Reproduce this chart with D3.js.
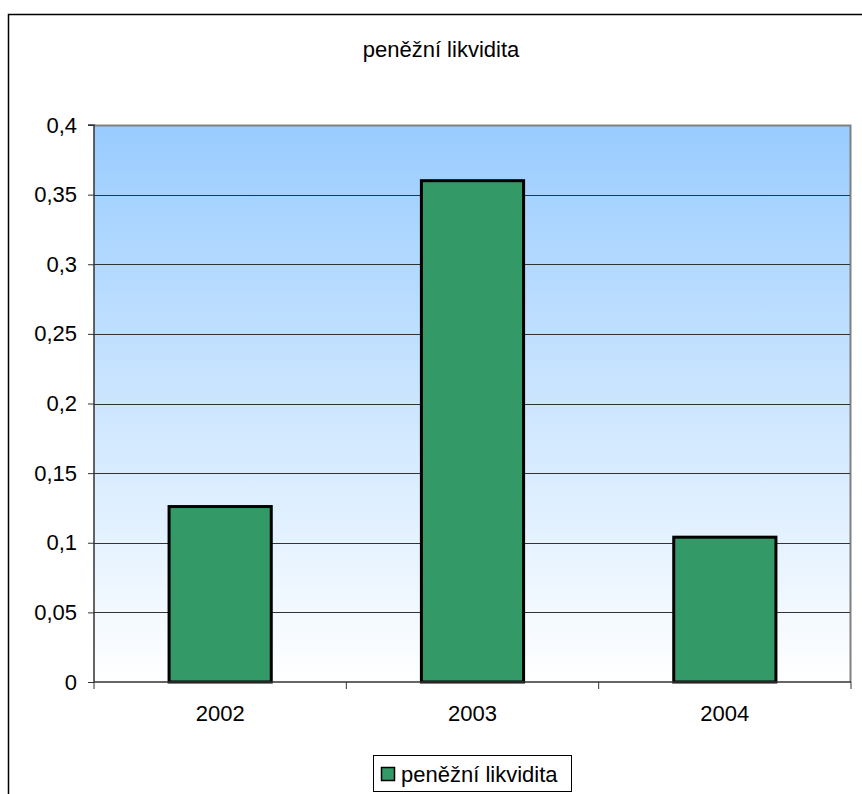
<!DOCTYPE html>
<html>
<head>
<meta charset="utf-8">
<script src="https://cdn.jsdelivr.net/npm/d3@7/dist/d3.min.js"></script>
<style>
  html, body { margin: 0; padding: 0; background: #fff; }
  svg { display: block; font-family: "Liberation Sans", Arial, sans-serif; }
</style>
</head>
<body>
<div id="chart"></div>
<script>
// Cash liquidity by year
const categories = ["2002", "2003", "2004"];
const values = [0.126, 0.36, 0.104];
const yTicks = [0, 0.05, 0.1, 0.15, 0.2, 0.25, 0.3, 0.35, 0.4];
const seriesName = "peněžní likvidita";
const titleText = "peněžní likvidita";

const W = 862, H = 794;
const FS = 22;
const plot = { left: 94, top: 125, right: 851, bottom: 682 };

const svg = d3.select("#chart").append("svg")
  .attr("width", W).attr("height", H);

// chart frame
svg.append("rect")
  .attr("x", 8.5).attr("y", 14.5)
  .attr("width", 1000).attr("height", 1000)
  .attr("fill", "#fff").attr("stroke", "#000").attr("stroke-width", 1.5);

// plot background gradient
const defs = svg.append("defs");
const grad = defs.append("linearGradient")
  .attr("id", "bg").attr("x1", 0).attr("y1", 0).attr("x2", 0).attr("y2", 1);
grad.append("stop").attr("offset", "0%").attr("stop-color", "#99CCFF");
grad.append("stop").attr("offset", "100%").attr("stop-color", "#FFFFFF");

const x = d3.scaleBand().domain(categories).range([plot.left, plot.right]).padding(0);
const y = d3.scaleLinear().domain([0, 0.4]).range([plot.bottom, plot.top]);

svg.append("rect")
  .attr("x", plot.left).attr("y", plot.top)
  .attr("width", plot.right - plot.left).attr("height", plot.bottom - plot.top)
  .attr("fill", "url(#bg)");

// plot border (top and right)
svg.append("path")
  .attr("d", `M${plot.left},${plot.top + 0.5}H${plot.right - 0.5}V${plot.bottom}`)
  .attr("fill", "none").attr("stroke", "#808080").attr("stroke-width", 2);

// horizontal gridlines
svg.append("g").selectAll("line")
  .data(yTicks.filter(d => d > 0 && d < 0.4))
  .join("line")
  .attr("x1", plot.left).attr("x2", plot.right - 1)
  .attr("y1", d => Math.round(y(d)) + 0.5).attr("y2", d => Math.round(y(d)) + 0.5)
  .attr("stroke", "#333").attr("stroke-width", 1);

// bars
const barFrac = 0.405;
svg.append("g").selectAll("rect")
  .data(values)
  .join("rect")
  .attr("x", (d, i) => x(categories[i]) + x.bandwidth() * (1 - barFrac) / 2)
  .attr("y", d => y(d))
  .attr("width", x.bandwidth() * barFrac)
  .attr("height", d => y(0) - y(d))
  .attr("fill", "#339966")
  .attr("stroke", "#000").attr("stroke-width", 3);

// y axis
const yAxis = d3.axisLeft(y).tickValues(yTicks).tickSize(6).tickPadding(11)
  .tickFormat(d => String(d).replace(".", ","));
const yg = svg.append("g").attr("transform", `translate(${plot.left},0)`).call(yAxis);
yg.attr("font-size", FS).attr("font-family", null);
yg.select(".domain").attr("stroke", "#333").attr("stroke-width", 1.5)
  .attr("d", `M-6,${plot.top}H0V${plot.bottom}`);
yg.selectAll(".tick line").attr("stroke", "#333");
yg.selectAll("text").attr("fill", "#000");

// x axis with ticks at category boundaries
const xg = svg.append("g");
xg.append("line")
  .attr("x1", plot.left).attr("x2", plot.right)
  .attr("y1", plot.bottom).attr("y2", plot.bottom)
  .attr("stroke", "#333").attr("stroke-width", 1.5);
const bounds = categories.map(c => x(c)).concat([x(categories[categories.length - 1]) + x.bandwidth()]);
xg.selectAll("line.tk").data(bounds).join("line").attr("class", "tk")
  .attr("x1", d => d).attr("x2", d => d)
  .attr("y1", plot.bottom).attr("y2", plot.bottom + 7)
  .attr("stroke", "#333").attr("stroke-width", 1);
xg.selectAll("text").data(categories).join("text")
  .attr("x", d => x(d) + x.bandwidth() / 2)
  .attr("y", 721)
  .attr("text-anchor", "middle")
  .attr("font-size", FS)
  .text(d => d);

// title
svg.append("text")
  .attr("x", 441).attr("y", 57)
  .attr("text-anchor", "middle")
  .attr("font-size", FS)
  .text(titleText);

// legend
const lg = svg.append("g");
lg.append("rect")
  .attr("x", 373.5).attr("y", 755.5).attr("width", 198).attr("height", 36)
  .attr("fill", "#fff").attr("stroke", "#000").attr("stroke-width", 1);
lg.append("rect")
  .attr("x", 381.5).attr("y", 767.5).attr("width", 13).attr("height", 13)
  .attr("fill", "#339966").attr("stroke", "#000").attr("stroke-width", 1.5);
lg.append("text")
  .attr("x", 401).attr("y", 782)
  .attr("font-size", FS)
  .text(seriesName);
</script>
</body>
</html>
